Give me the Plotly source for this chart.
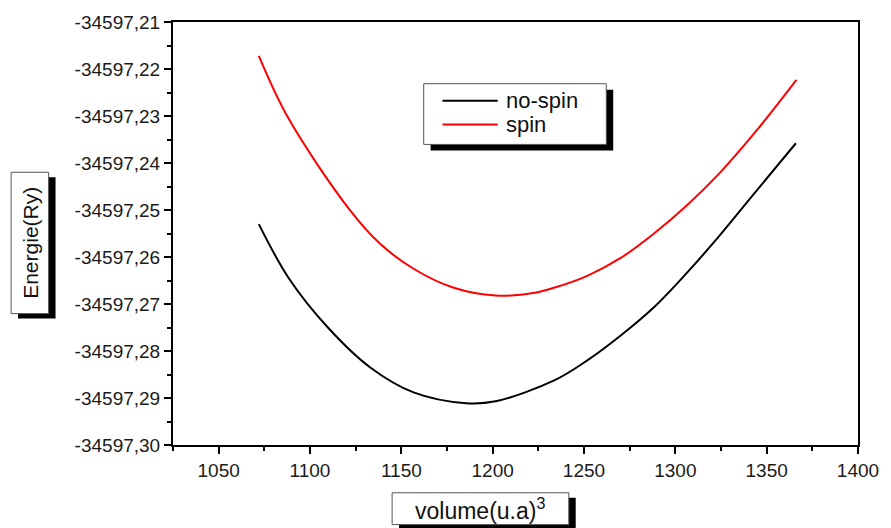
import plotly.graph_objects as go

# ---- data ----
nospin_volume = [1072.0, 1088.2, 1109.8, 1133.0, 1156.7, 1185.4, 1201.6, 1234.0, 1251.8,
                 1270.1, 1288.0, 1305.8, 1324.1, 1341.9, 1366.0]
nospin_energy = [-34597.2530, -34597.2644, -34597.2750, -34597.2835, -34597.2888, -34597.2911,
                 -34597.2907, -34597.2862, -34597.2820, -34597.2767, -34597.2708, -34597.2636,
                 -34597.2555, -34597.2471, -34597.2358]

spin_volume = [1072.0, 1088.2, 1122.2, 1138.4, 1156.7, 1178.3, 1201.6, 1223.2, 1234.0, 1251.8,
               1270.1, 1288.0, 1305.8, 1324.1, 1343.6, 1366.3]
spin_energy = [-34597.2172, -34597.2305, -34597.2502, -34597.2572, -34597.2625, -34597.2665,
               -34597.2682, -34597.2676, -34597.2665, -34597.2640, -34597.2602, -34597.2551,
               -34597.2492, -34597.2422, -34597.2335, -34597.2223]

y_tick_values = [-34597.21, -34597.22, -34597.23, -34597.24, -34597.25,
                 -34597.26, -34597.27, -34597.28, -34597.29, -34597.30]
y_tick_labels = ["-34597,21", "-34597,22", "-34597,23", "-34597,24", "-34597,25",
                 "-34597,26", "-34597,27", "-34597,28", "-34597,29", "-34597,30"]
x_tick_values = [1050, 1100, 1150, 1200, 1250, 1300, 1350, 1400]

series_names = ["no-spin", "spin"]
series_colors = ["#000000", "#ff0000"]

# ---- layout geometry (pixels) ----
W_FIG, H_FIG = 891, 528
L, R, T, B = 173, 24, 20, 83
PW, PH = W_FIG - L - R, H_FIG - T - B


def px(x):
    return (x - L) / PW


def py(y):
    return 1 - (y - T) / PH


FONT = "Arial, Liberation Sans, sans-serif"

fig = go.Figure()
fig.add_trace(go.Scatter(x=nospin_volume, y=nospin_energy, mode="lines", name=series_names[0],
                         line=dict(color=series_colors[0], width=2, shape="spline", smoothing=1.0)))
fig.add_trace(go.Scatter(x=spin_volume, y=spin_energy, mode="lines", name=series_names[1],
                         line=dict(color=series_colors[1], width=2, shape="spline", smoothing=1.0)))

shapes = []
annotations = []


def boxed(x0, y0, x1, y1, dx, dy):
    shapes.append(dict(type="rect", xref="paper", yref="paper",
                       x0=px(x0 + dx), x1=px(x1 + dx), y0=py(y0 + dy), y1=py(y1 + dy),
                       fillcolor="black", line=dict(width=0), layer="above"))
    shapes.append(dict(type="rect", xref="paper", yref="paper",
                       x0=px(x0), x1=px(x1), y0=py(y0), y1=py(y1),
                       fillcolor="white", line=dict(color="#555555", width=1), layer="above"))


# y-axis title box
boxed(9, 171, 47, 313, 7, 5)
annotations.append(dict(xref="paper", yref="paper", x=px(29), y=py(242), text="Energie(Ry)",
                        textangle=-90, xanchor="center", yanchor="middle", showarrow=False,
                        font=dict(family=FONT, size=21, color="#111111")))
# x-axis title box
boxed(395, 493, 574, 525, 7, 5)
annotations.append(dict(xref="paper", yref="paper", x=px(484), y=py(509),
                        text="volume(u.a)<sup>3</sup>", xanchor="center", yanchor="middle",
                        showarrow=False, font=dict(family=FONT, size=23, color="#111111")))
# legend box
boxed(427, 82, 612, 143, 7, 6)
for i, (name, col) in enumerate(zip(series_names, series_colors)):
    yy = 99 + 24 * i
    shapes.append(dict(type="line", xref="paper", yref="paper", x0=px(446), x1=px(502),
                       y0=py(yy), y1=py(yy), line=dict(color=col, width=2), layer="above"))
    annotations.append(dict(xref="paper", yref="paper", x=px(508), y=py(yy), text=name,
                            xanchor="left", yanchor="middle", showarrow=False,
                            font=dict(family=FONT, size=22, color="#111111")))

axis_common = dict(showgrid=False, zeroline=False, showline=True, linecolor="black", linewidth=2,
                   mirror=True, ticks="outside", ticklen=7, tickwidth=2, tickcolor="black",
                   tickfont=dict(family=FONT, size=19, color="#1a1a1a"))

fig.update_layout(
    width=W_FIG, height=H_FIG,
    margin=dict(l=L, r=R, t=T, b=B, pad=0),
    paper_bgcolor="white", plot_bgcolor="white",
    showlegend=False,
    shapes=shapes, annotations=annotations,
    xaxis=dict(range=[1025, 1400], tickvals=x_tick_values,
               minor=dict(tickmode="linear", tick0=1025, dtick=25, ticks="outside", ticklen=4,
                          tickwidth=2, tickcolor="black"),
               **axis_common),
    yaxis=dict(range=[-34597.30, -34597.21], tickvals=y_tick_values, ticktext=y_tick_labels,
               minor=dict(tickmode="linear", tick0=-34597.305, dtick=0.005, ticks="outside", ticklen=4,
                          tickwidth=2, tickcolor="black"),
               **axis_common),
)

fig.write_html("out.html", config={"displayModeBar": False},
               post_script="document.body.style.margin='0';document.body.style.overflow='hidden';")
